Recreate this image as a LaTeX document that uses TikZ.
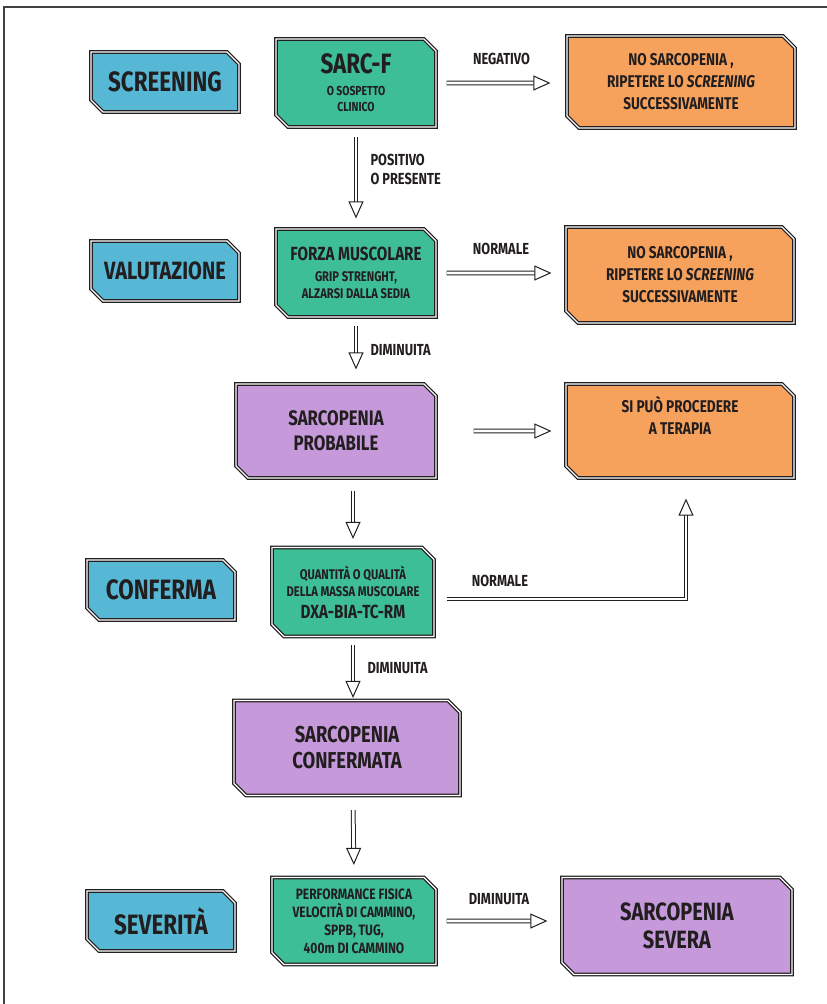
\documentclass[tikz,border=0pt]{standalone}
\usepackage{fontspec}
\setmainfont{Fira Sans}[FakeStretch=0.8]
\usetikzlibrary{shapes.misc,arrows.meta}

\definecolor{phaseblue}{RGB}{86,184,212}
\definecolor{testgreen}{RGB}{62,190,150}
\definecolor{resorange}{RGB}{246,162,92}
\definecolor{diagpurple}{RGB}{198,154,218}
\definecolor{ink}{RGB}{34,30,32}

\newcommand\fsz[2]{\fontsize{#1}{#2}\selectfont}

\tikzset{
  box/.style={chamfered rectangle, chamfered rectangle corners={north east,south west},
    chamfered rectangle xsep=6pt, chamfered rectangle ysep=6pt,
    draw=ink, double=white, double distance=1.3pt, line width=1.2pt,
    align=center, inner sep=0pt, text=ink},
  phase/.style={box, fill=phaseblue, minimum width=148pt, minimum height=60pt,
    font=\fsz{28}{30}\bfseries},
  test/.style={box, fill=testgreen, minimum width=160pt, minimum height=88pt},
  result/.style={box, fill=resorange, minimum width=228pt, minimum height=92pt,
    font=\fsz{17}{22}\bfseries},
  diag/.style={box, fill=diagpurple},
  harrow/.style={draw=ink, double=white, double distance=2.8pt, line width=1pt,
    -{Triangle[open, length=17pt, width=15pt]}},
  lbl/.style={font=\fsz{16}{19}\bfseries, text=ink, inner sep=0pt}
}

\begin{document}
\begin{tikzpicture}[x=1pt,y=-1pt]
  \useasboundingbox (0,0) rectangle (827,1004);
  \draw[line width=1.2pt, black!75] (827,7) -- (4,7) -- (4,1004);

  % screening
  \node[phase] (screen) at (165,82) {SCREENING};
  \node[test, font=\fsz{13}{16}\bfseries] (sarcf) at (356,83) {\fsz{28}{30}SARC-F\\[6pt]O SOSPETTO\\CLINICO};
  \node[result] (nosarc1) at (681,82) {NO SARCOPENIA ,\\RIPETERE LO \textit{SCREENING}\\SUCCESSIVAMENTE};

  % valutazione
  \node[phase, font=\fsz{25}{28}\bfseries] (valut) at (165,271) {VALUTAZIONE};
  \node[test, font=\fsz{14}{17}\bfseries] (forza) at (356,273) {\fsz{19}{22}FORZA MUSCOLARE\\[4pt]GRIP STRENGHT,\\ALZARSI DALLA SEDIA};
  \node[result, minimum height=96pt] (nosarc2) at (680,275) {NO SARCOPENIA ,\\RIPETERE LO \textit{SCREENING}\\SUCCESSIVAMENTE};

  \node[diag, minimum width=200pt, minimum height=94pt, font=\fsz{21}{25}\bfseries] (prob) at (336,431) {SARCOPENIA\\PROBABILE};
  \node[result, minimum height=94pt] (terapia) at (680,431) {SI PUÒ PROCEDERE\\A TERAPIA\\[10pt]\mbox{}};

  % conferma
  \node[phase] (conf) at (161,590) {CONFERMA};
  \node[test, minimum width=162pt, minimum height=89pt, font=\fsz{14}{17}\bfseries] (quant) at (353,592) {QUANTITÀ O QUALITÀ\\DELLA MASSA MUSCOLARE\\[5pt]\fsz{19}{22}DXA-BIA-TC-RM};
  \node[diag, minimum width=226pt, minimum height=95pt, font=\fsz{23}{26}\bfseries] (conferm) at (347,748) {SARCOPENIA\\CONFERMATA};

  % severita
  \node[phase] (sever) at (161,921) {SEVERITÀ};
  \node[test, minimum width=164pt, minimum height=87pt, font=\fsz{15}{18}\bfseries] (perf) at (354,921) {PERFORMANCE FISICA\\VELOCITÀ DI CAMMINO,\\SPPB, TUG,\\400m DI CAMMINO};
  \node[diag, minimum width=230pt, minimum height=97pt, font=\fsz{25}{28}\bfseries] (severa) at (677,926) {SARCOPENIA\\SEVERA};

  \draw[harrow, shorten <=10pt, shorten >=16pt] (sarcf) -- (sarcf -| nosarc1.west)
    node[midway, above=18pt, lbl] {NEGATIVO};
  \draw[harrow, shorten <=9pt, shorten >=10pt] (sarcf.south) -- (forza.north)
    node[pos=0.42, right=14pt, lbl, align=left] {POSITIVO\\O PRESENTE};
  \draw[harrow, shorten <=10pt, shorten >=14pt] (forza) -- (forza -| nosarc2.west)
    node[midway, above=18pt, lbl] {NORMALE};
  \draw[harrow, shorten <=8pt, shorten >=14pt] (forza.south) -- (forza.south |- prob.north)
    node[midway, right=14pt, lbl] {DIMINUITA};
  \draw[harrow, shorten <=37pt, shorten >=14pt] (prob) -- (prob -| terapia.west);
  \draw[harrow, shorten <=12pt, shorten >=8pt] (prob.south -| quant.north) -- (quant.north);
  \draw[harrow, shorten <=12pt, shorten >=20pt] ([yshift=-7pt]quant.east) -| ([xshift=6pt]terapia.south)
    node[pos=0.13, above=12pt, lbl] {NORMALE};
  \draw[harrow, shorten <=8pt, shorten >=2pt] (quant.south) -- (quant.south |- conferm.north)
    node[midway, right=14pt, lbl] {DIMINUITA};
  \draw[harrow, shorten <=14pt, shorten >=12pt] (conferm.south -| quant.south) -- (perf.north);
  \draw[harrow, shorten <=10pt, shorten >=14pt] (perf) -- (perf -| severa.west)
    node[midway, above=16pt, lbl] {DIMINUITA};
\end{tikzpicture}
\end{document}
